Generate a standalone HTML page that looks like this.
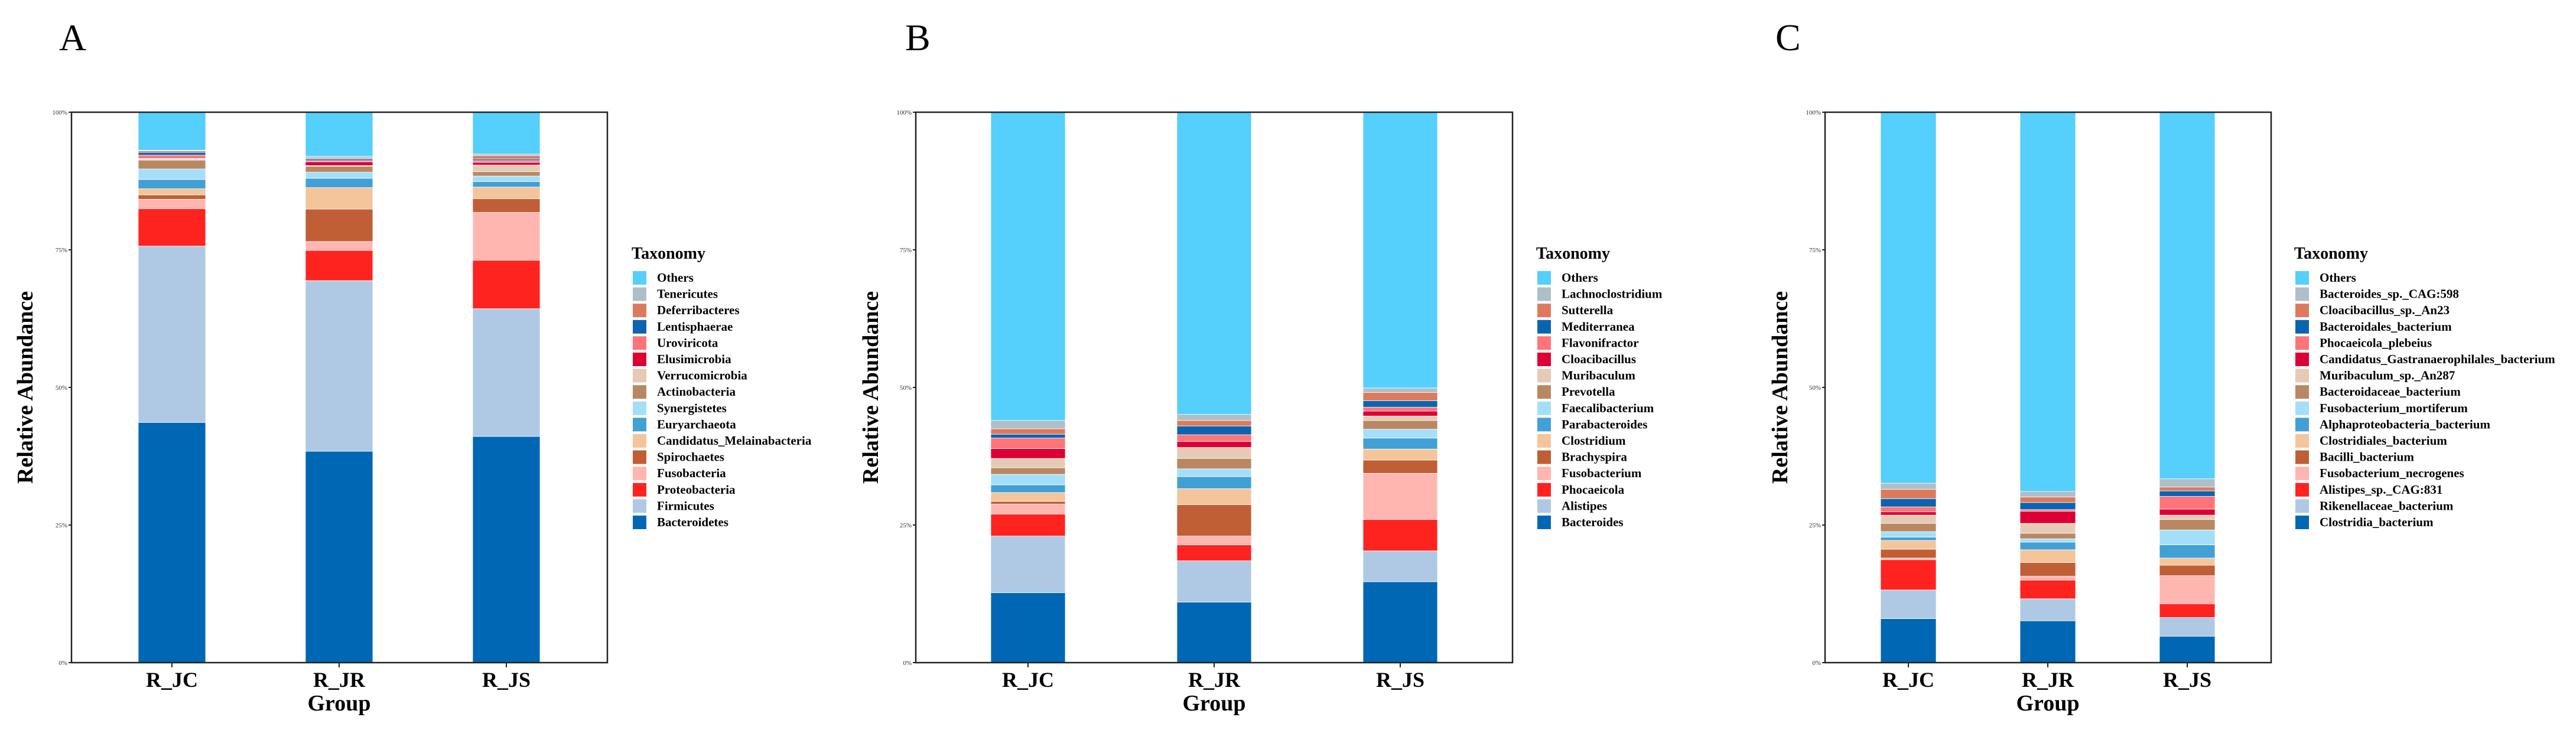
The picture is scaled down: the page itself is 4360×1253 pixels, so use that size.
<!DOCTYPE html>
<html><head><meta charset="utf-8"><style>
html,body{margin:0;padding:0;background:#fff}
svg{display:block}
text{font-family:"Liberation Serif",serif}
</style></head><body>
<svg id="chart" width="4360" height="1253" viewBox="0 0 4360 1253" xmlns="http://www.w3.org/2000/svg"></svg>
<script>
const groups = ["R_JC","R_JR","R_JS"];
const colors = ["#0067B4","#AFC9E4","#FF2320","#FFB6B0","#C05E35","#F4C59A","#42A0D6","#A4DFFA","#B98863","#E5CAB5","#DC0035","#FF7478","#0B64B0","#DD7A5E","#ADBFC8","#55CFFB"];
const taxaA = ["Bacteroidetes","Firmicutes","Proteobacteria","Fusobacteria","Spirochaetes","Candidatus_Melainabacteria","Euryarchaeota","Synergistetes","Actinobacteria","Verrucomicrobia","Elusimicrobia","Uroviricota","Lentisphaerae","Deferribacteres","Tenericutes","Others"];
const valuesA_JC = [43.6,32.0,6.8,1.7,0.8,1.1,1.7,1.9,1.6,0.2,0.1,0.6,0.5,0.3,0.1,6.9];
const valuesA_JR = [38.4,31.0,5.5,1.6,5.9,3.9,1.7,1.1,1.1,0.1,0.7,0.2,0.3,0.2,0.3,8.0];
const valuesA_JS = [41.1,23.2,8.8,8.7,2.5,2.1,1.0,1.0,0.8,1.2,0.5,0.3,0.3,0.6,0.3,7.6];
const taxaB = ["Bacteroides","Alistipes","Phocaeicola","Fusobacterium","Brachyspira","Clostridium","Parabacteroides","Faecalibacterium","Prevotella","Muribaculum","Cloacibacillus","Flavonifractor","Mediterranea","Sutterella","Lachnoclostridium","Others"];
const valuesB_JC = [12.7,10.3,4.0,1.8,0.5,1.6,1.4,1.9,1.2,1.7,1.8,1.9,0.7,1.0,1.5,56.0];
const valuesB_JR = [11.0,7.5,2.9,1.6,5.7,2.9,2.2,1.4,1.9,2.0,1.1,1.2,1.6,1.0,1.1,54.9];
const valuesB_JS = [14.7,5.6,5.7,8.4,2.4,2.0,2.0,1.6,1.6,0.8,0.9,0.7,1.2,1.5,0.8,50.1];
const taxaC = ["Clostridia_bacterium","Rikenellaceae_bacterium","Alistipes_sp._CAG:831","Fusobacterium_necrogenes","Bacilli_bacterium","Clostridiales_bacterium","Alphaproteobacteria_bacterium","Fusobacterium_mortiferum","Bacteroidaceae_bacterium","Muribaculum_sp._An287","Candidatus_Gastranaerophilales_bacterium","Phocaeicola_plebeius","Bacteroidales_bacterium","Cloacibacillus_sp._An23","Bacteroides_sp._CAG:598","Others"];
const valuesC_JC = [8.0,5.2,5.5,0.3,1.6,1.6,0.6,1.0,1.5,1.5,0.6,0.9,1.5,1.7,1.1,67.4];
const valuesC_JR = [7.6,4.0,3.4,0.7,2.5,2.3,1.4,0.6,1.0,1.8,2.2,0.3,1.3,1.0,1.0,68.9];
const valuesC_JS = [4.8,3.4,2.5,5.1,1.9,1.3,2.4,2.7,1.9,0.8,1.1,2.3,1.0,0.7,1.5,66.6];
const yTicks = ["0%","25%","50%","75%","100%"];

const NS="http://www.w3.org/2000/svg";
const svg=document.getElementById('chart');
function mk(tag,attrs,parent,txt){const e=document.createElementNS(NS,tag);for(const k in attrs)e.setAttribute(k,attrs[k]);if(txt!==undefined)e.textContent=txt;(parent||svg).appendChild(e);return e;}

const TOP=190,BOT=1122;
const panels=[
 {id:"a",letter:"A",letterX:100,left:121,right:1028,centers:[291,574,857],bw:114,ytx:42,lx:1071,taxa:taxaA,vals:[valuesA_JC,valuesA_JR,valuesA_JS]},
 {id:"b",letter:"B",letterX:1532,left:1550,right:2560,centers:[1740,2055,2370],bw:126,ytx:1473,lx:2602,taxa:taxaB,vals:[valuesB_JC,valuesB_JR,valuesB_JS]},
 {id:"c",letter:"C",letterX:3005,left:3089,right:3844,centers:[3230,3466,3702],bw:94,ytx:3012,lx:3885,taxa:taxaC,vals:[valuesC_JC,valuesC_JR,valuesC_JS]}
];
function yScale(p){return BOT-(BOT-TOP)*p/100;}

panels.forEach(P=>{
  const g=mk('g',{});
  
  
  const L=mk('text',{x:P.letterX,y:85,'font-size':64},g,P.letter);
  
  
  // bars
  P.vals.forEach((vals,gi)=>{
    const tot=vals.reduce((a,b)=>a+b,0);
    let cum=0;
    vals.forEach((v,si)=>{
      const p0=cum/tot*100, p1=(cum+v)/tot*100; cum+=v;
      const r=mk('rect',{x:P.centers[gi]-P.bw/2,y:yScale(p1),width:P.bw,height:yScale(p0)-yScale(p1),fill:colors[si],stroke:'#fff','stroke-width':0.8},g);
      
      
    });
  });
  // frame
  const f=mk('rect',{x:P.left,y:TOP,width:P.right-P.left,height:BOT-TOP,fill:'none',stroke:'#222','stroke-width':2.5},g);
  
  
  // y ticks
  yTicks.forEach((t,i)=>{
    const y=yScale(i*25);
    mk('line',{x1:P.left-5,x2:P.left,y1:y,y2:y,stroke:'#222','stroke-width':2},g);
    const tt=mk('text',{x:P.left-7,y:y+4,'font-size':11,'text-anchor':'end',fill:'#333'},g,t);
    
    
  });
  // x ticks
  groups.forEach((gname,i)=>{
    mk('line',{x1:P.centers[i],x2:P.centers[i],y1:BOT,y2:BOT+8,stroke:'#222','stroke-width':2},g);
    const xt=mk('text',{x:P.centers[i],y:1163,'font-size':36,'font-weight':'bold','text-anchor':'middle'},g,gname);
    
    
  });
  const xtitle=mk('text',{x:P.centers[1],y:1203,'font-size':38,'font-weight':'bold','text-anchor':'middle'},g,"Group");
  
  
  const yt=mk('text',{x:P.ytx+13,y:(TOP+BOT)/2,'font-size':38,'font-weight':'bold','text-anchor':'middle',transform:`rotate(-90 ${P.ytx+13} ${(TOP+BOT)/2})`},g,"Relative Abundance");
  
  
  // legend
  const lg=mk('g',{},g);
  
  
  const lt=mk('text',{x:P.lx-2,y:438,'font-size':28,'font-weight':'bold'},lg,"Taxonomy");
  
  
  for(let k=0;k<16;k++){
    const si=15-k;
    const y=459+k*27.6;
    const e=mk('g',{},lg);
    
    
    mk('rect',{x:P.lx,y:y,width:23,height:23,fill:colors[si]},e);
    mk('text',{x:P.lx+41,y:y+18,'font-size':21,'font-weight':'bold'},e,P.taxa[si]);
  }
});
</script>
</body></html>
